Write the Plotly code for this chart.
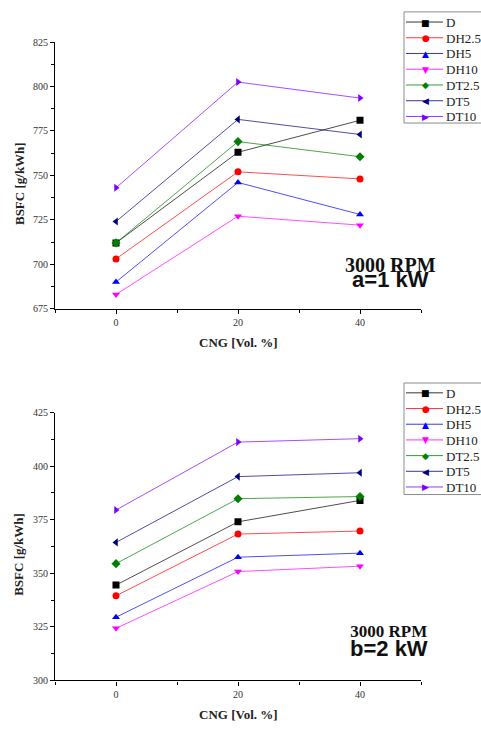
import plotly.graph_objects as go

# CNG share in the fuel (vol. %)
cng = [0, 20, 40]

series_names = ["D", "DH2.5", "DH5", "DH10", "DT2.5", "DT5", "DT10"]
series_colors = ["#000000", "#ff0000", "#0000ff", "#ff00ff", "#008000", "#000080", "#8000ff"]
series_symbols = ["square", "circle", "triangle-up", "triangle-down", "diamond",
                  "triangle-left", "triangle-right"]
# same marker shapes as glyphs, used in the hand-built legend keys
series_glyphs = ["\u25A0", "\u25CF", "\u25B2", "\u25BC", "\u25C6", "\u25C0", "\u25B6"]

# BSFC [g/kWh] at 3000 RPM, 1 kW load
bsfc_1kw_D = [712, 763, 781]
bsfc_1kw_DH25 = [703, 752, 748]
bsfc_1kw_DH5 = [690, 746, 728]
bsfc_1kw_DH10 = [683, 727, 722]
bsfc_1kw_DT25 = [712, 769, 760.5]
bsfc_1kw_DT5 = [724, 781.5, 773]
bsfc_1kw_DT10 = [743, 802.5, 793.5]

# BSFC [g/kWh] at 3000 RPM, 2 kW load
bsfc_2kw_D = [344.5, 374, 384]
bsfc_2kw_DH25 = [339.5, 368.3, 369.7]
bsfc_2kw_DH5 = [329.5, 357.5, 359.4]
bsfc_2kw_DH10 = [324.3, 350.8, 353.3]
bsfc_2kw_DT25 = [354.5, 384.8, 385.8]
bsfc_2kw_DT5 = [364.4, 395.1, 396.9]
bsfc_2kw_DT10 = [379.5, 411.2, 412.8]

data_1kw = [bsfc_1kw_D, bsfc_1kw_DH25, bsfc_1kw_DH5, bsfc_1kw_DH10,
            bsfc_1kw_DT25, bsfc_1kw_DT5, bsfc_1kw_DT10]
data_2kw = [bsfc_2kw_D, bsfc_2kw_DH25, bsfc_2kw_DH5, bsfc_2kw_DH10,
            bsfc_2kw_DT25, bsfc_2kw_DT5, bsfc_2kw_DT10]

W, H = 481, 731
SERIF = "Liberation Serif, Times New Roman, serif"
SANS = "Liberation Sans, Arial, sans-serif"
GLYPH = "DejaVu Sans, sans-serif"


def px_x(p):
    return p / W


def px_y(p):
    return 1 - p / H


fig = go.Figure()

for i, name in enumerate(series_names):
    fig.add_trace(go.Scatter(
        x=cng, y=data_1kw[i], name=name, mode="lines+markers",
        line=dict(color=series_colors[i], width=0.7),
        marker=dict(symbol=series_symbols[i], color=series_colors[i], size=7),
        xaxis="x", yaxis="y", showlegend=False,
    ))
for i, name in enumerate(series_names):
    fig.add_trace(go.Scatter(
        x=cng, y=data_2kw[i], name=name, mode="lines+markers",
        line=dict(color=series_colors[i], width=0.7),
        marker=dict(symbol=series_symbols[i], color=series_colors[i], size=7),
        xaxis="x2", yaxis="y2", showlegend=False,
    ))

axis_common = dict(
    showline=True, linecolor="black", linewidth=1.2, mirror=False,
    showgrid=False, zeroline=False,
    ticks="outside", ticklen=4, tickwidth=1, tickcolor="black",
    tickfont=dict(family=SERIF, size=10, color="#333333"),
)
x_minor = dict(ticks="outside", ticklen=3, tickwidth=1, tickcolor="black",
               tickvals=[-10, 10, 30, 50])
y_minor = dict(ticks="outside", ticklen=3, tickwidth=1, tickcolor="black", dtick=12.5)

x_dom = [px_x(55), px_x(421)]

fig.update_layout(
    width=W, height=H,
    margin=dict(l=0, r=0, t=0, b=0),
    paper_bgcolor="white", plot_bgcolor="white",
    showlegend=False,
    xaxis=dict(domain=x_dom, anchor="y", range=[-10, 50], tickvals=[0, 20, 40],
               minor=x_minor, **axis_common),
    yaxis=dict(domain=[px_y(307.7), px_y(36.7)], anchor="x", range=[675, 825],
               tickvals=[675, 700, 725, 750, 775, 800, 825], minor=y_minor, **axis_common),
    xaxis2=dict(domain=x_dom, anchor="y2", range=[-10, 50], tickvals=[0, 20, 40],
                minor=x_minor, **axis_common),
    yaxis2=dict(domain=[px_y(685.7), px_y(413.3)], anchor="x2", range=[300, 425],
                tickvals=[300, 325, 350, 375, 400, 425], minor=y_minor, **axis_common),
)

shapes = []
annotations = []


def add_legend(top_px, bottom_px, first_px, step_px):
    # boxed key: short line, marker glyph, series name
    shapes.append(dict(type="rect", xref="paper", yref="paper",
                       x0=px_x(404), x1=px_x(483), y0=px_y(bottom_px), y1=px_y(top_px),
                       line=dict(color="#8c8c8c", width=1), fillcolor="white", layer="above"))
    for i, name in enumerate(series_names):
        yc = first_px + step_px * i
        shapes.append(dict(type="line", xref="paper", yref="paper",
                           x0=px_x(406), x1=px_x(443), y0=px_y(yc), y1=px_y(yc),
                           line=dict(color=series_colors[i], width=0.8), layer="above"))
        annotations.append(dict(text=series_glyphs[i], x=px_x(425.5), y=px_y(yc + 0.5),
                                xanchor="center", yanchor="middle",
                                font=dict(family=GLYPH, size=9, color=series_colors[i])))
        annotations.append(dict(text=name, x=px_x(444), y=px_y(yc + 0.5),
                                xanchor="left", yanchor="middle",
                                font=dict(family=SERIF, size=13, color="#222222")))


add_legend(6, 119, 16.3, 16.0)
add_legend(383.3, 496.7, 393.3, 15.95)


def op_label(line1, size1, line2, size2):
    # two-line label: bold serif speed over bold sans load
    return (f"<span style='font-family:{SERIF};font-size:{size1}px'><b>{line1}</b></span><br>"
            f"<span style='font-family:{SANS};font-size:{size2}px'><b>{line2}</b></span>")


annotations += [
    # axis titles
    dict(text="<b>BSFC [g/kWh]</b>", x=px_x(19), y=px_y(181), textangle=-90,
         font=dict(family=SERIF, size=13, color="#222222")),
    dict(text="<b>CNG [Vol. %]</b>", x=px_x(238), y=px_y(342),
         font=dict(family=SERIF, size=13, color="#222222")),
    dict(text="<b>BSFC [g/kWh]</b>", x=px_x(19), y=px_y(558), textangle=-90,
         font=dict(family=SERIF, size=13, color="#222222")),
    dict(text="<b>CNG [Vol. %]</b>", x=px_x(238), y=px_y(720),
         font=dict(family=SERIF, size=13, color="#222222")),
    # operating-point labels (line pitch follows the base font size)
    dict(text=op_label("3000 RPM", 20, "a=1 kW", 22), x=px_x(390), y=px_y(271),
         font=dict(family=SANS, size=11.5, color="#111111")),
    dict(text=op_label("3000 RPM", 17, "b=2 kW", 22), x=px_x(389), y=px_y(646),
         font=dict(family=SANS, size=14.8, color="#111111")),
]
for a in annotations:
    a.update(xref="paper", yref="paper", showarrow=False)
    a.setdefault("xanchor", "center")
    a.setdefault("yanchor", "middle")
fig.update_layout(shapes=shapes, annotations=annotations)

fig.write_html("out.html")
